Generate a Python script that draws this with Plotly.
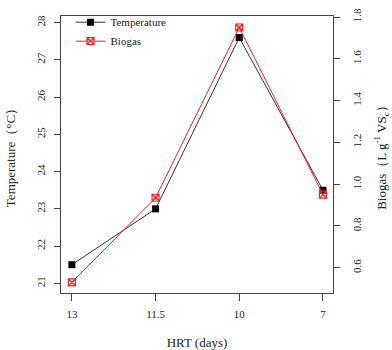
import plotly.graph_objects as go

hrt_labels = ["13", "11.5", "10", "7"]
temperature = [21.5, 23.0, 27.6, 23.5]
biogas = [0.53, 0.935, 1.75, 0.95]

temp_ticks = [21, 22, 23, 24, 25, 26, 27, 28]
biogas_ticks = [0.6, 0.8, 1.0, 1.2, 1.4, 1.6, 1.8]

FONT = "Liberation Serif"

fig = go.Figure()
fig.add_trace(go.Scatter(
    x=hrt_labels, y=temperature, name="Temperature", mode="lines+markers",
    line=dict(color="#333333", width=1),
    marker=dict(symbol="square", color="black", size=7),
    yaxis="y",
))
fig.add_trace(go.Scatter(
    x=hrt_labels, y=biogas, name="Biogas", mode="lines+markers",
    line=dict(color="#ee2222", width=1),
    marker=dict(symbol="square-x-open", color="#ee2222", size=7, line=dict(width=1.2)),
    yaxis="y2",
))

fig.update_layout(
    width=392, height=350,
    margin=dict(l=61, r=59, t=8, b=57),
    paper_bgcolor="white", plot_bgcolor="white",
    font=dict(family=FONT, size=11, color="#222222"),
    showlegend=True,
    legend=dict(x=0.035, y=1.03, xanchor="left", yanchor="top",
                bgcolor="rgba(0,0,0,0)", font=dict(family=FONT, size=11),
                tracegroupgap=0, itemwidth=30),
    xaxis=dict(
        type="category", range=[-0.13, 3.12], automargin=False,
        showline=True, linecolor="#444444", linewidth=1, mirror=True,
        ticks="outside", ticklen=7, tickcolor="#444444",
        showgrid=False, zeroline=False, ticklabelstandoff=4,
        tickfont=dict(family=FONT, size=11),
        title=dict(text="HRT (days)", font=dict(family=FONT, size=13), standoff=24),
    ),
    yaxis=dict(
        range=[20.74, 28.18], automargin=False,
        tickvals=temp_ticks, ticktext=[str(t) for t in temp_ticks],
        showline=True, linecolor="#444444", linewidth=1,
        ticks="outside", ticklen=6, tickcolor="#444444",
        tickangle=-90, showgrid=False, zeroline=False, ticklabelstandoff=5,
        tickfont=dict(family=FONT, size=11),
        title=dict(text="Temperature（°C）", font=dict(family=FONT, size=13), standoff=16),
    ),
    yaxis2=dict(
        overlaying="y", side="right", automargin=False,
        range=[0.479, 1.805],
        tickvals=biogas_ticks, ticktext=[f"{t:.1f}" for t in biogas_ticks],
        showline=True, linecolor="#444444", linewidth=1,
        ticks="outside", ticklen=6, tickcolor="#444444",
        tickangle=-90, showgrid=False, zeroline=False, ticklabelstandoff=8,
        tickfont=dict(family=FONT, size=11),
        title=dict(text="Biogas（L g<sup>-1</sup> VS<sub>c</sub>）", font=dict(family=FONT, size=13), standoff=14),
    ),
)

fig.write_html("out.html")
